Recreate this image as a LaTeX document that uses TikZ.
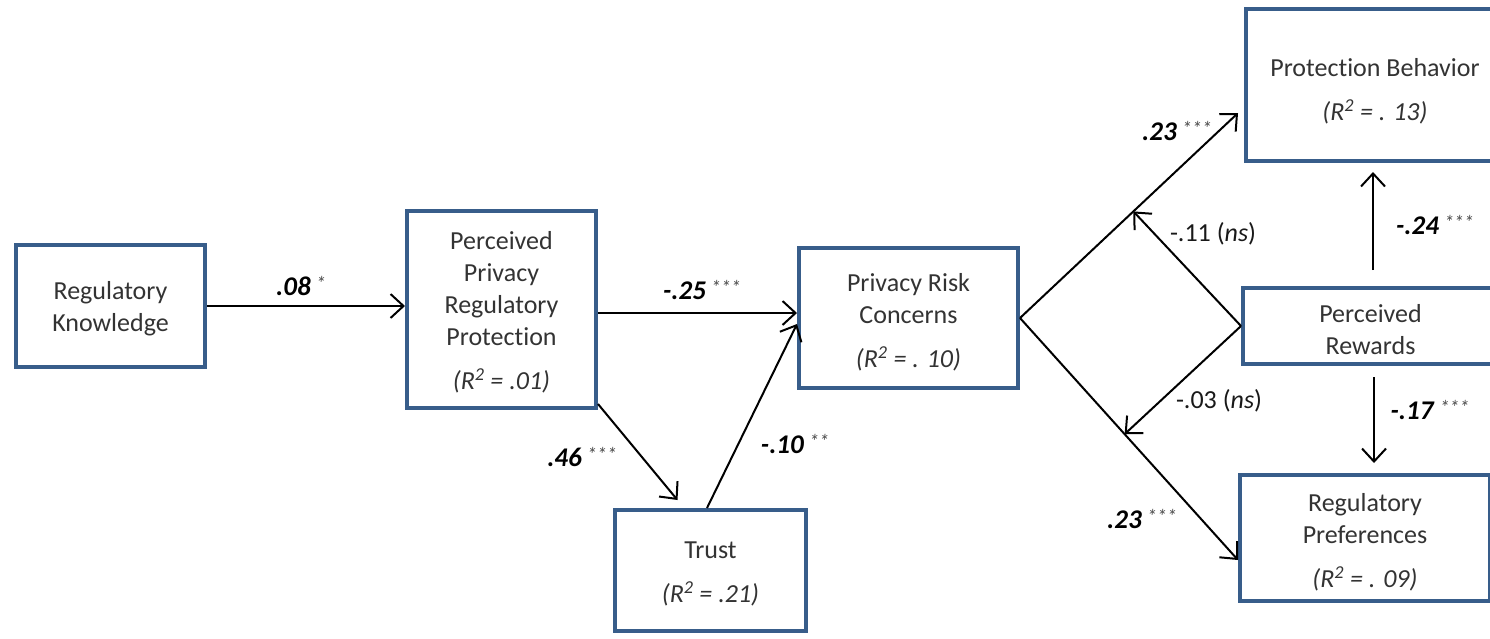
\documentclass[tikz,border=0pt]{standalone}
\usepackage{fontspec}
\setmainfont[Ligatures=NoCommon]{Carlito}
\usetikzlibrary{arrows.meta,calc}
\definecolor{boxblue}{HTML}{385D8A}
\definecolor{txtgray}{HTML}{333333}
\newcommand{\sigstars}[1]{\hspace{5pt}\raisebox{0.22em}{\fontsize{20}{20}\selectfont\color{black!70}\mdseries\itshape #1}}
\newcommand{\coef}[2]{\textbf{\textit{#1}}\sigstars{#2}}
\newcommand{\rsq}[1]{\textit{(R\textsuperscript{2} = #1)}}
\begin{document}
\begin{tikzpicture}[x=1pt,y=-1pt,
  box/.style={draw=boxblue, line width=4pt, fill=white, rectangle, inner sep=0pt},
  boxtext/.style={align=center, inner sep=0pt, text=txtgray, font=\fontsize{26}{32}\selectfont},
  arr/.style={line width=2pt, draw=black, -{Straight Barb[length=13pt,width=24pt]}},
  lab/.style={font=\fontsize{27}{30}\selectfont, text=black, inner sep=0pt},
  nslab/.style={font=\fontsize{26}{30}\selectfont, text=black!90, inner sep=0pt}]
\useasboundingbox (0,0) rectangle (1490,638);
\clip (0,0) rectangle (1490,638);

% boxes
\node[box, minimum width=189, minimum height=122] (rk) at (110.5,306) {};
\node[box, minimum width=189, minimum height=197] (pprp) at (501.5,309.5) {};
\node[box, minimum width=191, minimum height=121] (trust) at (710.5,570.5) {};
\node[box, minimum width=219, minimum height=140] (prc) at (908.5,318) {};
\node[box, minimum width=258, minimum height=152] (pb) at (1375,85) {};
\node[box, minimum width=255, minimum height=76] (pr) at (1370.5,326) {};
\node[box, minimum width=250, minimum height=126] (rp) at (1365,538) {};

% box texts
\node[boxtext] (rkt) at ($(rk.center)+(0,3)$) {Regulatory\\Knowledge};
\node[boxtext] (pprpt) at ($(pprp.center)+(0,3)$) {Perceived\\Privacy\\Regulatory\\Protection\\[12pt]\rsq{.01}};
\node[boxtext] (trustt) at ($(trust.center)+(0,3)$) {Trust\\[12pt]\rsq{.21}};
\node[boxtext] (prct) at ($(prc.center)+(0,4)$) {Privacy Risk\\Concerns\\[12pt]\rsq{. 10}};
\node[boxtext] (pbt0) at ($(pb.center)+(0,6)$) {Protection Behavior\\[12pt]\rsq{. 13}};
\node[boxtext] (prt) at ($(pr.center)+(0,4)$) {Perceived\\Rewards};
\node[boxtext] (rpt0) at ($(rp.center)+(0,4)$) {Regulatory\\Preferences\\[12pt]\rsq{. 09}};

% helper coordinates
\coordinate (pe) at ($(pprp.east)+(0,3.5)$);
\coordinate (ps) at ($(pprp.south east)+(0,-6)$);
\coordinate (tt) at ($(trust.north)+(-33,-8)$);
\coordinate (ts) at ($(trust.north)+(-3.5,0)$);
\coordinate (pw) at ($(prc.west)+(0,6)$);
\coordinate (pbt) at ($(pb.west)+(-6,28)$);
\coordinate (rpt) at ($(rp.west)+(0,22)$);
\coordinate (m1) at ($(prc.east)!0.52!(pbt)$);
\coordinate (m2) at ($(prc.east)!0.48!(rpt)$);
\coordinate (u1) at ($(pr.north)+(2.5,-16)$);
\coordinate (u2) at ($(pb.south)+(-2,9)$);
\coordinate (d1) at ($(pr.south)+(3.5,11)$);
\coordinate (d2) at ($(rp.north)+(9,-10)$);

% connectors
\draw[arr] (rk.east) -- (rk.east -| pprp.west);
\draw[arr] (pe) -- (pe -| prc.west);
\draw[arr] (ps) -- (tt);
\draw[arr] (ts) -- (pw);
\draw[arr] (prc.east) -- (pbt);
\draw[arr] (prc.east) -- (rpt);
\draw[arr] (pr.west) -- (m1);
\draw[arr] (pr.west) -- (m2);
\draw[arr] (u1) -- (u2);
\draw[arr] (d1) -- (d2);

% labels
\node[lab] (l1) at (301,286) {\coef{.08}{*}};
\node[lab] (l2) at (702,290) {\coef{-.25}{***}};
\node[lab] (l3) at (582,457) {\coef{.46}{***}};
\node[lab] (l4) at (795,444) {\coef{-.10}{**}};
\node[lab] (l5) at (1177,131) {\coef{.23}{***}};
\node[lab] (l6) at (1142,519) {\coef{.23}{***}};
\node[nslab] (l7) at (1213,234) {-.11 (\textit{ns})};
\node[nslab] (l8) at (1219,401) {-.03 (\textit{ns})};
\node[lab] (l9) at (1435,225) {\coef{-.24}{***}};
\node[lab] (l10) at (1430,410) {\coef{-.17}{***}};
\end{tikzpicture}
\end{document}
